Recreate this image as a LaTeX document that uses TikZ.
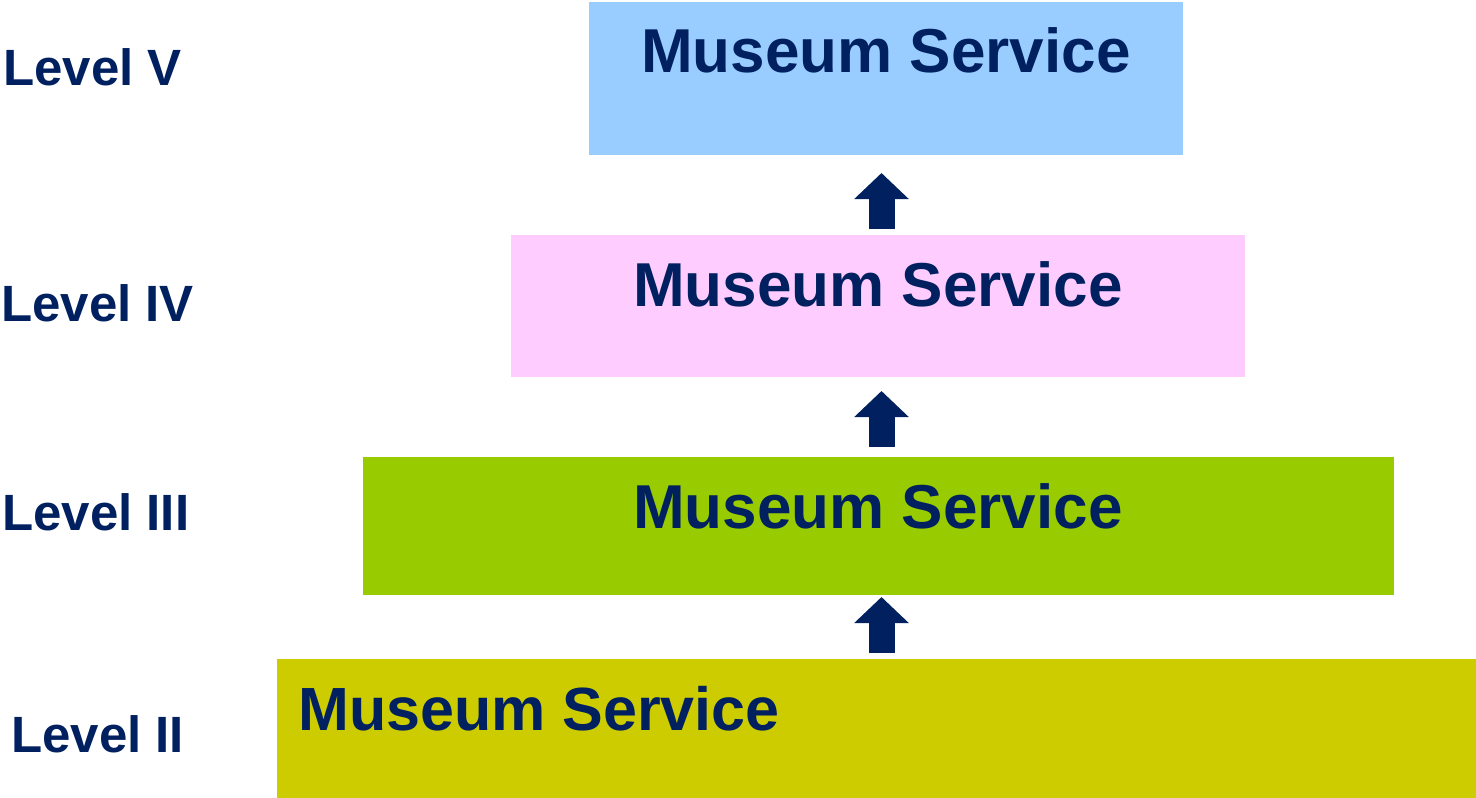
\documentclass[tikz,border=0pt]{standalone}
\usepackage{fontspec}
\setmainfont{Liberation Sans}
\usetikzlibrary{arrows.meta}

\definecolor{navy}{HTML}{002060}
\definecolor{lvfive}{HTML}{99CCFF}
\definecolor{lvfour}{HTML}{FFCCFF}
\definecolor{lvthree}{HTML}{99CC00}
\definecolor{lvtwo}{HTML}{CCCC00}

\begin{document}
\begin{tikzpicture}[x=1pt, y=-1pt,
    box/.style={rectangle, draw=none, inner sep=0pt, outer sep=0pt, anchor=north west},
    svc/.style={navy, font=\fontsize{62}{70}\selectfont\bfseries, inner sep=0pt, anchor=base},
    lvl/.style={navy, font=\fontsize{51}{60}\selectfont\bfseries, inner sep=0pt, anchor=base west},
    blockarr/.style={navy, line width=26pt, -{Triangle[width=53pt, length=26pt]}}]
  \useasboundingbox (0,0) rectangle (1476,798);

  % Service boxes
  \node[box, fill=lvfive, minimum width=594pt, minimum height=153pt] (v) at (589,2) {};
  \node[box, fill=lvfour, minimum width=734pt, minimum height=142pt] (iv) at (511,235) {};
  \node[box, fill=lvthree, minimum width=1031pt, minimum height=138pt] (iii) at (363,457) {};
  \node[box, fill=lvtwo, minimum width=1199pt, minimum height=139pt] (ii) at (277,659) {};

  \node[svc] (vtxt) at (886,72) {Museum Service};
  \node[svc] (ivtxt) at (878,306) {Museum Service};
  \node[svc] (iiitxt) at (878,528) {Museum Service};
  \node[svc, font=\fontsize{61}{70}\selectfont\bfseries, anchor=base west] (iitxt) at (298,730) {Museum Service};

  % Level names
  \node[lvl] (lv) at (3,85) {Level V};
  \node[lvl] (liv) at (1,321) {Level IV};
  \node[lvl] (liii) at (2,530) {Level III};
  \node[lvl] (lii) at (11,752) {Level II};

  % Arrows between levels
  \coordinate (axis) at (881.5,0);
  \draw[blockarr, shorten <=6pt, shorten >=18pt] (iv.north -| axis) -- (v.south -| axis);
  \draw[blockarr, shorten <=10pt, shorten >=14pt] (iii.north -| axis) -- (iv.south -| axis);
  \draw[blockarr, shorten <=6pt, shorten >=2pt] (ii.north -| axis) -- (iii.south -| axis);
\end{tikzpicture}
\end{document}
